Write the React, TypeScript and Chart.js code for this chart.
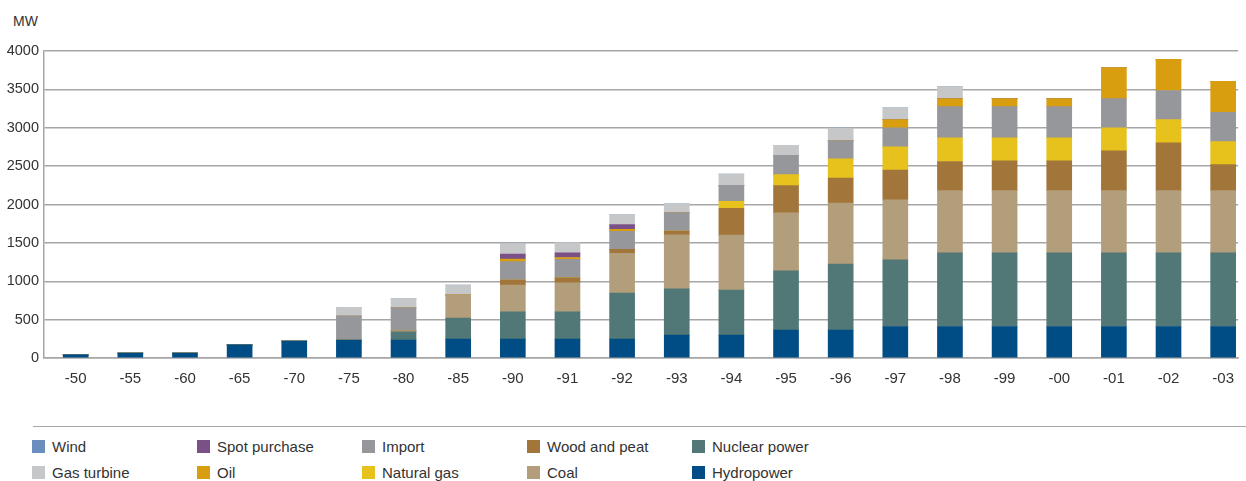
import React, { useEffect, useRef } from "react";
import { Chart, registerables } from "chart.js";

Chart.register(...registerables);

const categories = ["-50", "-55", "-60", "-65", "-70", "-75", "-80", "-85", "-90", "-91", "-92", "-93", "-94", "-95", "-96", "-97", "-98", "-99", "-00", "-01", "-02", "-03"];

const hydropower = [40, 65, 65, 170, 220, 235, 235, 245, 245, 245, 245, 300, 300, 365, 365, 410, 410, 410, 410, 410, 410, 410];
const nuclearPower = [0, 0, 0, 0, 0, 0, 105, 275, 355, 355, 600, 600, 585, 770, 860, 870, 960, 960, 960, 960, 960, 960];
const coal = [0, 0, 0, 0, 0, 0, 15, 300, 350, 380, 520, 705, 715, 755, 795, 780, 810, 810, 810, 810, 810, 810];
const woodAndPeat = [0, 0, 0, 0, 0, 0, 0, 0, 65, 65, 50, 50, 350, 355, 325, 390, 380, 390, 390, 520, 625, 340];
const naturalGas = [0, 0, 0, 0, 0, 0, 0, 0, 0, 0, 0, 0, 90, 145, 250, 300, 310, 300, 300, 300, 300, 300];
const importPower = [0, 0, 0, 0, 0, 310, 300, 0, 240, 240, 235, 235, 210, 250, 235, 250, 405, 405, 405, 380, 380, 380];
const oil = [0, 0, 0, 0, 0, 0, 0, 0, 35, 25, 25, 0, 0, 0, 0, 105, 105, 105, 105, 405, 405, 405];
const spotPurchase = [0, 0, 0, 0, 0, 0, 0, 0, 65, 60, 65, 0, 0, 0, 0, 0, 0, 0, 0, 0, 0, 0];
const gasTurbine = [0, 0, 0, 0, 0, 115, 115, 130, 130, 135, 130, 120, 145, 130, 165, 155, 155, 0, 0, 0, 0, 0];
const wind = [0, 0, 0, 0, 0, 0, 0, 0, 0, 0, 0, 0, 0, 0, 0, 0, 0, 0, 0, 0, 0, 0];

const yTicks = [0, 500, 1000, 1500, 2000, 2500, 3000, 3500, 4000];

// stacking order, bottom to top
const seriesNames = ["Hydropower", "Nuclear power", "Coal", "Wood and peat", "Natural gas", "Import", "Oil", "Spot purchase", "Gas turbine", "Wind"];
const seriesValues = [hydropower, nuclearPower, coal, woodAndPeat, naturalGas, importPower, oil, spotPurchase, gasTurbine, wind];
const seriesColors = ["#004c85", "#517876", "#b39e7c", "#a2763a", "#e8c21c", "#96979b", "#d99e10", "#7a5187", "#c6c7c9", "#6a8fbf"];

// legend layout order (column by column, two rows)
const legendOrder = ["Wind", "Gas turbine", "Spot purchase", "Oil", "Import", "Natural gas", "Wood and peat", "Coal", "Nuclear power", "Hydropower"];

const FONT = "'Liberation Sans', Arial, Helvetica, sans-serif";
const GRID = "#a6a6a6";

export default function App() {
  const ref = useRef<HTMLCanvasElement | null>(null);

  useEffect(() => {
    if (!ref.current) return;
    const chart = new Chart(ref.current, {
      type: "bar",
      data: {
        datasets: seriesNames.map((name, si) => ({
          label: name,
          data: seriesValues[si].map((v, i) => ({ x: i, y: v })),
          backgroundColor: seriesColors[si],
          borderWidth: 0,
          barThickness: 25,
        })),
      },
      options: {
        animation: false,
        responsive: false,
        maintainAspectRatio: false,
        layout: { padding: { top: 51, right: 0, bottom: 0, left: 0 } },
        plugins: { legend: { display: false }, tooltip: { enabled: false } },
        scales: {
          x: {
            type: "linear",
            stacked: true,
            offset: false,
            min: -0.58,
            max: -0.58 + 1202 / 55,
            grid: { display: false, drawTicks: false },
            border: { display: true, color: GRID, width: 1.5 },
            afterFit: (s: any) => { s.height = 42; },
            afterBuildTicks: (s: any) => {
              s.ticks = categories.map((_, i) => ({ value: i }));
            },
            ticks: {
              autoSkip: false,
              maxRotation: 0,
              padding: 12,
              color: "#333",
              font: { family: FONT, size: 15 },
              callback: (v: any) => categories[Math.round(Number(v))] ?? "",
            },
          },
          y: {
            stacked: true,
            min: 0,
            max: 4000,
            grid: { color: GRID, lineWidth: 1.5, drawTicks: false },
            border: { display: true, color: GRID, width: 1.5 },
            afterFit: (s: any) => { s.width = 44; },
            afterBuildTicks: (s: any) => {
              s.ticks = yTicks.map((v) => ({ value: v }));
            },
            ticks: {
              padding: 5,
              color: "#333",
              font: { family: FONT, size: 14.5 },
              callback: (v: any) => String(v),
            },
          },
        },
      },
    });
    return () => chart.destroy();
  }, []);

  return (
    <div style={{ position: "fixed", left: 0, top: 0, width: 1246, height: 481, overflow: "hidden", background: "#fff", fontFamily: FONT, color: "#333" }}>
      <div style={{ position: "absolute", left: 13, top: 12, fontSize: 14, lineHeight: "18px" }}>MW</div>
      <canvas ref={ref} width={1246} height={400} style={{ position: "absolute", left: 0, top: 0, width: 1246, height: 400 }} />
      <div style={{ position: "absolute", left: 33, top: 426, right: 0, height: 0, borderTop: "1.5px solid #a8a8a8" }} />
      {legendOrder.map((name, k) => {
        const col = Math.floor(k / 2);
        const row = k % 2;
        const color = seriesColors[seriesNames.indexOf(name)];
        return (
          <div key={name} style={{ position: "absolute", left: 32 + col * 165, top: 437 + row * 26, height: 18, display: "flex", alignItems: "center", fontSize: 15, whiteSpace: "nowrap" }}>
            <span style={{ display: "inline-block", width: 13, height: 13, background: color, marginRight: 7 }} />
            <span>{name}</span>
          </div>
        );
      })}
    </div>
  );
}
